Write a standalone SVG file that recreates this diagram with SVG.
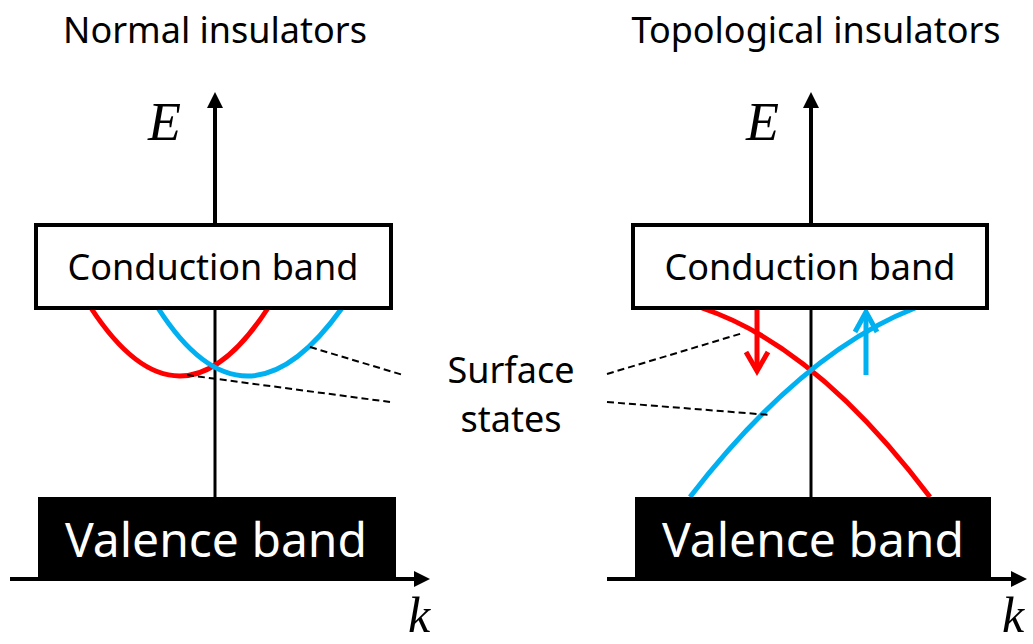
<svg xmlns="http://www.w3.org/2000/svg" width="1033" height="644" viewBox="0 0 1033 644">
<defs>
<style>
.lbl{font-family:"Noto Sans","Open Sans",sans-serif;font-size:36px;fill:#000;text-anchor:middle}
.vb{font-family:"Noto Sans","Open Sans",sans-serif;font-size:48px;fill:#fff;text-anchor:middle}
.var{font-family:"Liberation Serif","Times New Roman",serif;font-style:italic;font-size:54px;fill:#000}
.kv{font-family:"Liberation Serif","Times New Roman",serif;font-style:italic;font-size:50px;fill:#000}
.cb{fill:#fff;stroke:#000;stroke-width:4}
.vbox{fill:#000}
.axis{stroke:#000;stroke-width:4;fill:none}
.axis2{stroke:#000;stroke-width:3;fill:none}
.red{stroke:#FF0000;stroke-width:5;fill:none}
.blue{stroke:#00B0F0;stroke-width:5;fill:none}
.dash{stroke:#000;stroke-width:2;stroke-dasharray:7,4;fill:none}
</style>
</defs>
<rect width="1033" height="644" fill="#fff"/>

<g id="titles">
<text class="lbl" x="215" y="43">Normal insulators</text>
<text class="lbl" x="816" y="43">Topological insulators</text>
</g>

<g id="connectors">
<line class="axis" x1="215" y1="225" x2="215" y2="106"/>
<path d="M207,108 L215,92 L223,108 Z" fill="#000"/>
<line class="axis2" x1="215" y1="308" x2="215" y2="497"/>
<line class="axis" x1="10" y1="579" x2="416" y2="579"/>
<path d="M414,571 L430,579 L414,587 Z" fill="#000"/>
<line class="axis" x1="811" y1="225" x2="811" y2="106"/>
<path d="M803,108 L811,92 L819,108 Z" fill="#000"/>
<line class="axis2" x1="811" y1="308" x2="811" y2="497"/>
<line class="axis" x1="607" y1="579" x2="1012" y2="579"/>
<path d="M1011,571 L1027,579 L1011,587 Z" fill="#000"/>
</g>

<g id="left-surface-states">
<path class="red" d="M91,308 Q180,444 268,308"/>
<path class="blue" d="M158,308 Q245,444 342,308"/>
</g>

<g id="right-surface-states">
<path class="red" d="M702,308 Q816,346 930,497"/>
<path class="blue" d="M690,497 Q802,352 915,308"/>
<g id="spin-arrows">
<line class="red" x1="757" y1="308" x2="757" y2="371" stroke-width="4"/>
<path class="red" d="M746,352 L757,371 L768,352" stroke-width="4"/>
<line class="blue" x1="866" y1="375" x2="866" y2="312" stroke-width="4"/>
<path class="blue" d="M855,332 L866,312 L877,332" stroke-width="4"/>
</g>
</g>

<g id="left-conduction">
<rect class="cb" x="36" y="225" width="355" height="83"/>
<text class="lbl" x="213" y="280">Conduction band</text>
</g>
<g id="left-valence">
<rect class="vbox" x="38" y="497" width="358" height="81"/>
<text class="vb" x="216" y="557">Valence band</text>
</g>
<g id="right-conduction">
<rect class="cb" x="633" y="225" width="354" height="83"/>
<text class="lbl" x="810" y="280">Conduction band</text>
</g>
<g id="right-valence">
<rect class="vbox" x="635" y="497" width="356" height="81"/>
<text class="vb" x="813" y="557">Valence band</text>
</g>

<g id="axis-labels">
<text class="var" x="148" y="140">E</text>
<text class="kv" x="408" y="632">k</text>
<text class="var" x="746" y="140">E</text>
<text class="kv" x="1002" y="632">k</text>
</g>

<g id="surface-label">
<text class="lbl" x="511" y="383">Surface</text>
<text class="lbl" x="511" y="432">states</text>
</g>

<g id="leader-lines">
<line class="dash" x1="310" y1="347" x2="403" y2="375"/>
<line class="dash" x1="187" y1="375" x2="390" y2="402"/>
<line class="dash" x1="607" y1="374" x2="743" y2="333"/>
<line class="dash" x1="607" y1="402" x2="770" y2="415"/>
</g>
</svg>
